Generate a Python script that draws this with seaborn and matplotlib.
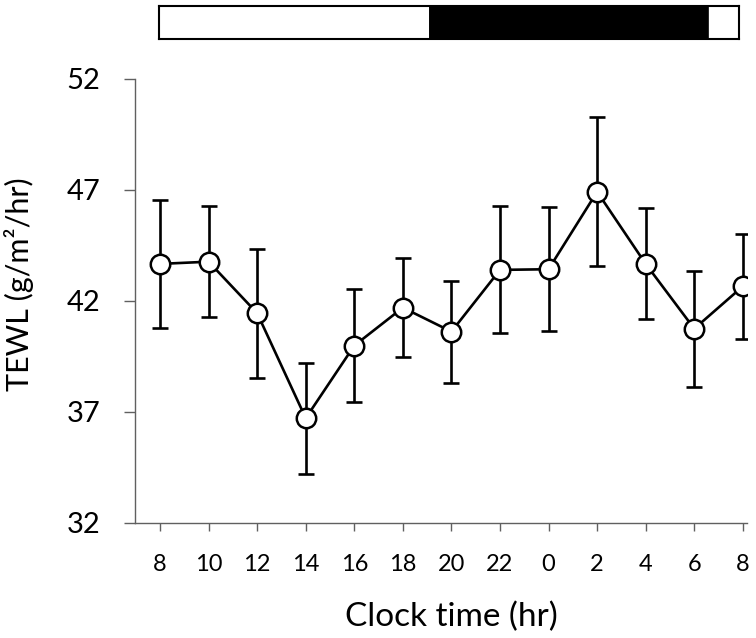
import numpy as np
import pandas as pd
import seaborn as sns
import matplotlib.pyplot as plt

# clock time labels and TEWL means +/- error
clock_labels = ['8', '10', '12', '14', '16', '18', '20', '22', '0', '2', '4', '6', '8']
tewl_mean = [43.67, 43.77, 41.45, 36.72, 39.99, 41.70, 40.62, 43.40, 43.43, 46.92, 43.67, 40.75, 42.66]
tewl_err = [2.88, 2.50, 2.90, 2.50, 2.55, 2.24, 2.30, 2.86, 2.80, 3.35, 2.50, 2.62, 2.36]

# light/dark bar: hours since 08:00 (start, end, colour)
phase_start = [0.0, 11.2, 22.7]
phase_end = [11.2, 22.7, 24.0]
phase_color = ['white', 'black', 'white']

sns.set_style('white')
plt.rcParams['font.family'] = ['Lato', 'DejaVu Sans']
plt.rcParams['text.color'] = 'black'
plt.rcParams['axes.labelcolor'] = 'black'
plt.rcParams['xtick.color'] = 'black'
plt.rcParams['ytick.color'] = 'black'

df = pd.DataFrame({'idx': np.arange(len(tewl_mean)), 'tewl': tewl_mean, 'err': tewl_err})

fig = plt.figure(figsize=(7.56, 6.38), dpi=100)
ax = fig.add_axes([0.1786, 0.1803, 0.8091, 0.6959])

ax.errorbar(df['idx'], df['tewl'], yerr=df['err'], fmt='none', ecolor='black',
            elinewidth=1.9, capsize=6, capthick=1.9, zorder=1)
sns.lineplot(data=df, x='idx', y='tewl', ax=ax, color='black', linewidth=1.9,
             marker='o', markersize=14, markerfacecolor='white',
             markeredgecolor='black', markeredgewidth=1.8, zorder=3)

ax.set_xlim(-0.515, 12.08)
ax.set_ylim(32, 52)
ax.set_yticks([32, 37, 42, 47, 52])
ax.set_xticks(df['idx'])
ax.set_xticklabels(clock_labels)
for s in ['top', 'right']:
    ax.spines[s].set_visible(False)
for s in ['left', 'bottom']:
    ax.spines[s].set_color('#606060')
    ax.spines[s].set_linewidth(1.0)
ax.tick_params(axis='y', direction='out', length=8, width=1, color='#606060',
               labelsize=21, pad=17, left=True)
ax.tick_params(axis='x', direction='out', length=6, width=1, color='#606060',
               labelsize=17, pad=16, bottom=True)
ax.set_xlabel('Clock time (hr)', fontsize=24)
ax.set_ylabel('TEWL (g/m²/hr)', fontsize=22)
ax.xaxis.set_label_coords(0.517, -0.178)
ax.yaxis.set_label_coords(-0.165, 0.538)

# light/dark phase bar
bx = fig.add_axes([0.2103, 0.9389, 0.7672, 0.0517])
bx.barh(0, np.array(phase_end) - np.array(phase_start), left=phase_start,
        height=1, color=phase_color, edgecolor='black', linewidth=1.2)
bx.set_xlim(0, 24)
bx.set_ylim(-0.5, 0.5)
bx.set_xticks([])
bx.set_yticks([])
for s in bx.spines.values():
    s.set_color('black')
    s.set_linewidth(1.5)

fig.savefig('out.png', dpi=100)
